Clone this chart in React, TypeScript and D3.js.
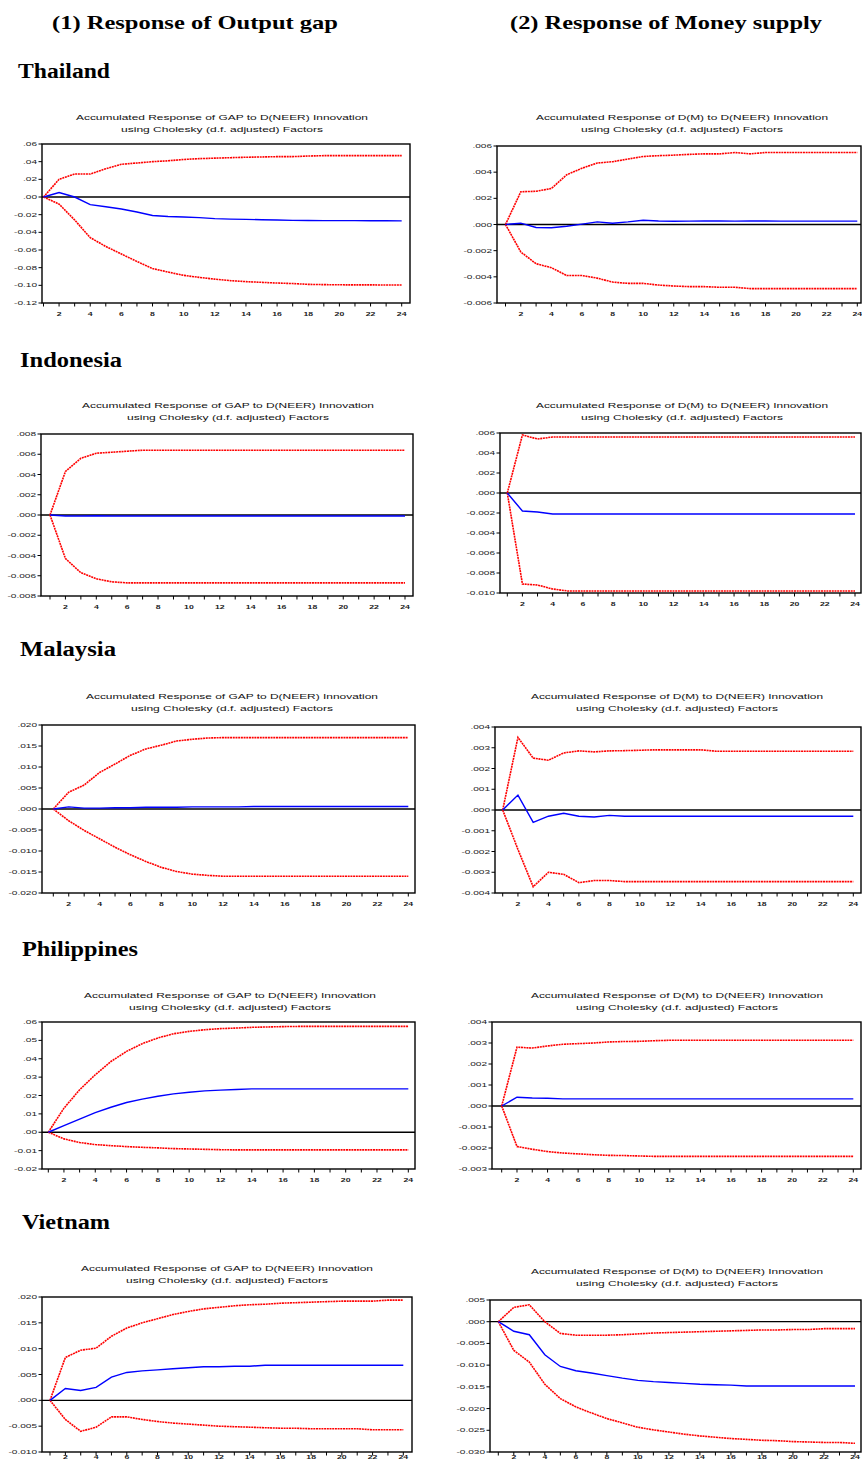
import React, { useEffect } from "react";
import * as d3 from "d3";

// ---------- data ----------
const periods = d3.range(1, 25);
const xTickLabels = [2, 4, 6, 8, 10, 12, 14, 16, 18, 20, 22, 24];
const countries = ["Thailand", "Indonesia", "Malaysia", "Philippines", "Vietnam"];
const columnHeads = ["(1) Response of Output gap", "(2) Response of Money supply"];
const chartTitles = [
  "Accumulated Response of GAP to D(NEER) Innovation",
  "Accumulated Response of D(M) to D(NEER) Innovation",
];
const subTitle = "using Cholesky (d.f. adjusted) Factors";

// Thailand
const thGapHi = [0, .020, .026, .026, .032, .037, .0385, .040, .041, .0425, .0434, .044, .0445, .045, .0453, .0457, .0457, .0464, .0468, .0468, .0468, .0468, .0468, .0468];
const thGapMid = [0, .005, 0, -.0087, -.011, -.0136, -.017, -.021, -.022, -.0226, -.0234, -.0245, -.025, -.0253, -.0257, -.026, -.0265, -.0266, -.0267, -.0268, -.0268, -.0269, -.0269, -.027];
const thGapLo = [0, -.008, -.026, -.046, -.056, -.0645, -.073, -.081, -.085, -.0887, -.091, -.093, -.0947, -.0958, -.0966, -.0974, -.098, -.0989, -.0992, -.0994, -.0995, -.0995, -.0996, -.0996];
const thMHi = [0, .0025, .00254, .00275, .0038, .0043, .0047, .0048, .005, .0052, .00526, .0053, .00536, .0054, .0054, .0055, .0054, .0055, .0055, .0055, .0055, .0055, .0055, .0055];
const thMMid = [0, .0001, -.00023, -.00025, -.00013, .00003, .0002, .0001, .0002, .00033, .00027, .00025, .00026, .00027, .00027, .00026, .00027, .00027, .00026, .00026, .00026, .00026, .00026, .00026];
const thMLo = [0, -.0021, -.003, -.0033, -.0039, -.0039, -.0041, -.0044, -.0045, -.0045, -.00463, -.0047, -.00475, -.00475, -.0048, -.0048, -.0049, -.0049, -.0049, -.0049, -.0049, -.0049, -.0049, -.0049];

// Indonesia
const idGapHi = [0, .0043, .0056, .0061, .0062, .0063, .0064, .0064, .0064, .0064, .0064, .0064, .0064, .0064, .0064, .0064, .0064, .0064, .0064, .0064, .0064, .0064, .0064, .0064];
const idGapMid = [0, -.0001, -.0001, -.00008, -.0001, -.0001, -.0001, -.0001, -.0001, -.0001, -.0001, -.0001, -.0001, -.0001, -.0001, -.0001, -.0001, -.0001, -.0001, -.0001, -.0001, -.0001, -.0001, -.0001];
const idGapLo = [0, -.0043, -.0057, -.0063, -.0066, -.0067, -.0067, -.0067, -.0067, -.0067, -.0067, -.0067, -.0067, -.0067, -.0067, -.0067, -.0067, -.0067, -.0067, -.0067, -.0067, -.0067, -.0067, -.0067];
const idMHi = [0, .0058, .0054, .0056, .0056, .0056, .0056, .0056, .0056, .0056, .0056, .0056, .0056, .0056, .0056, .0056, .0056, .0056, .0056, .0056, .0056, .0056, .0056, .0056];
const idMMid = [0, -.0018, -.0019, -.0021, -.0021, -.0021, -.0021, -.0021, -.0021, -.0021, -.0021, -.0021, -.0021, -.0021, -.0021, -.0021, -.0021, -.0021, -.0021, -.0021, -.0021, -.0021, -.0021, -.0021];
const idMLo = [0, -.0091, -.0092, -.0096, -.0098, -.0098, -.0098, -.0098, -.0098, -.0098, -.0098, -.0098, -.0098, -.0098, -.0098, -.0098, -.0098, -.0098, -.0098, -.0098, -.0098, -.0098, -.0098, -.0098];

// Malaysia
const myGapHi = [0, .004, .0057, .0087, .0107, .0128, .0143, .0152, .0162, .0166, .0169, .017, .017, .017, .017, .017, .017, .017, .017, .017, .017, .017, .017, .017];
const myGapMid = [0, .0005, .0002, .0002, .0003, .0003, .0004, .0004, .0004, .0005, .0005, .0005, .0005, .0006, .0006, .0006, .0006, .0006, .0006, .0006, .0006, .0006, .0006, .0006];
const myGapLo = [0, -.0028, -.0051, -.0071, -.0091, -.0109, -.0125, -.0139, -.0149, -.0155, -.0158, -.016, -.016, -.016, -.016, -.016, -.016, -.016, -.016, -.016, -.016, -.016, -.016, -.016];
const myMHi = [0, .0035, .0025, .0024, .00275, .00285, .0028, .00285, .00286, .00288, .0029, .0029, .0029, .0029, .00283, .00283, .00283, .00283, .00283, .00283, .00283, .00283, .00283, .00283];
const myMMid = [0, .00072, -.0006, -.0003, -.00016, -.0003, -.00034, -.00026, -.0003, -.0003, -.0003, -.0003, -.0003, -.0003, -.0003, -.0003, -.0003, -.0003, -.0003, -.0003, -.0003, -.0003, -.0003, -.0003];
const myMLo = [0, -.0019, -.0037, -.003, -.0031, -.0035, -.0034, -.0034, -.00345, -.00345, -.00345, -.00345, -.00345, -.00345, -.00345, -.00345, -.00345, -.00345, -.00345, -.00345, -.00345, -.00345, -.00345, -.00345];

// Philippines
const phGapHi = [0, .0131, .0231, .0313, .0385, .044, .0482, .0513, .0536, .0549, .0558, .0564, .0567, .0571, .0573, .0575, .0576, .0576, .0576, .0576, .0576, .0576, .0576, .0576];
const phGapMid = [0, .0036, .0071, .0107, .0136, .0162, .018, .0196, .0209, .0218, .0225, .0229, .0233, .0236, .0236, .0236, .0236, .0236, .0236, .0236, .0236, .0236, .0236, .0236];
const phGapLo = [0, -.0036, -.0056, -.0067, -.0073, -.0078, -.0082, -.0085, -.0089, -.0091, -.0093, -.0095, -.0096, -.0096, -.0096, -.0096, -.0096, -.0096, -.0096, -.0096, -.0096, -.0096, -.0096, -.0096];
const phMHi = [0, .0028, .00276, .00286, .00294, .00297, .003, .00305, .00307, .00308, .00311, .00313, .00313, .00313, .00313, .00313, .00313, .00313, .00313, .00313, .00313, .00313, .00313, .00313];
const phMMid = [0, .00042, .00038, .00037, .00034, .00034, .00034, .00034, .00034, .00034, .00034, .00034, .00034, .00034, .00034, .00034, .00034, .00034, .00034, .00034, .00034, .00034, .00034, .00034];
const phMLo = [0, -.00193, -.00206, -.00217, -.00224, -.00228, -.00232, -.00235, -.00236, -.00238, -.0024, -.0024, -.0024, -.0024, -.0024, -.0024, -.0024, -.0024, -.0024, -.0024, -.0024, -.0024, -.0024, -.0024];

// Vietnam
const vnGapHi = [0, .0083, .0097, .0101, .0124, .014, .015, .0158, .0166, .0172, .0177, .018, .0183, .0185, .0186, .0188, .0189, .019, .0191, .0192, .0192, .0192, .0194, .0194];
const vnGapMid = [0, .0023, .0019, .0025, .0045, .0054, .0057, .0059, .0061, .0063, .0065, .0065, .0066, .0066, .0068, .0068, .0068, .0068, .0068, .0068, .0068, .0068, .0068, .0068];
const vnGapLo = [0, -.0037, -.006, -.0052, -.0032, -.0032, -.0037, -.0041, -.0044, -.0046, -.0048, -.005, -.0051, -.0052, -.0053, -.0054, -.0054, -.0055, -.0055, -.0055, -.0055, -.0057, -.0057, -.0057];
const vnMHi = [0, .0033, .0039, 0, -.0027, -.0031, -.0031, -.0031, -.003, -.0028, -.0026, -.0025, -.0024, -.0023, -.0022, -.0021, -.002, -.0019, -.0019, -.0018, -.0018, -.0016, -.0016, -.0016];
const vnMMid = [0, -.0022, -.003, -.0076, -.0103, -.0113, -.0118, -.0124, -.013, -.0135, -.0138, -.014, -.0142, -.0144, -.0145, -.0146, -.0148, -.0148, -.0148, -.0148, -.0148, -.0148, -.0148, -.0148];
const vnMLo = [0, -.0066, -.0093, -.0144, -.0177, -.0196, -.021, -.0223, -.0233, -.0243, -.0249, -.0254, -.0259, -.0263, -.0266, -.0269, -.0271, -.0273, -.0274, -.0276, -.0277, -.0278, -.0278, -.028];

// y tick values per panel
const thGapTicks = [-.12, -.10, -.08, -.06, -.04, -.02, 0, .02, .04, .06];
const thMTicks = [-.006, -.004, -.002, 0, .002, .004, .006];
const idGapTicks = [-.008, -.006, -.004, -.002, 0, .002, .004, .006, .008];
const idMTicks = [-.010, -.008, -.006, -.004, -.002, 0, .002, .004, .006];
const myGapTicks = [-.020, -.015, -.010, -.005, 0, .005, .010, .015, .020];
const myMTicks = [-.004, -.003, -.002, -.001, 0, .001, .002, .003, .004];
const phGapTicks = [-.02, -.01, 0, .01, .02, .03, .04, .05, .06];
const phMTicks = [-.003, -.002, -.001, 0, .001, .002, .003, .004];
const vnGapTicks = [-.010, -.005, 0, .005, .010, .015, .020];
const vnMTicks = [-.030, -.025, -.020, -.015, -.010, -.005, 0, .005];

const panels = [
  { hi: thGapHi, mid: thGapMid, lo: thGapLo, ticks: thGapTicks, dec: 2 },
  { hi: thMHi, mid: thMMid, lo: thMLo, ticks: thMTicks, dec: 3 },
  { hi: idGapHi, mid: idGapMid, lo: idGapLo, ticks: idGapTicks, dec: 3 },
  { hi: idMHi, mid: idMMid, lo: idMLo, ticks: idMTicks, dec: 3 },
  { hi: myGapHi, mid: myGapMid, lo: myGapLo, ticks: myGapTicks, dec: 3 },
  { hi: myMHi, mid: myMMid, lo: myMLo, ticks: myMTicks, dec: 3 },
  { hi: phGapHi, mid: phGapMid, lo: phGapLo, ticks: phGapTicks, dec: 2 },
  { hi: phMHi, mid: phMMid, lo: phMLo, ticks: phMTicks, dec: 3 },
  { hi: vnGapHi, mid: vnGapMid, lo: vnGapLo, ticks: vnGapTicks, dec: 3 },
  { hi: vnMHi, mid: vnMMid, lo: vnMLo, ticks: vnMTicks, dec: 3 },
];

// ---------- layout (pixel boxes for each panel) ----------
const boxes = [
  { left: 42, top: 144, right: 410, bottom: 303, p1: 43.5, p24: 401.7, tx: 222, ty: 117 },
  { left: 497, top: 146, right: 861, bottom: 303, p1: 505.5, p24: 857.3, tx: 682, ty: 117 },
  { left: 41, top: 434, right: 413, bottom: 596, p1: 50, p24: 405, tx: 228, ty: 405 },
  { left: 500, top: 433, right: 861, bottom: 593, p1: 507.3, p24: 855, tx: 682, ty: 405 },
  { left: 42, top: 725, right: 415, bottom: 893, p1: 53.3, p24: 408.3, tx: 232, ty: 696 },
  { left: 495, top: 727, right: 861, bottom: 893, p1: 502.7, p24: 853.3, tx: 677, ty: 696 },
  { left: 42, top: 1022, right: 415, bottom: 1169, p1: 48.3, p24: 408.3, tx: 230, ty: 995 },
  { left: 492, top: 1022, right: 861, bottom: 1169, p1: 501.7, p24: 853.3, tx: 677, ty: 995 },
  { left: 42, top: 1297, right: 412, bottom: 1452, p1: 50, p24: 403.3, tx: 227, ty: 1268 },
  { left: 490, top: 1300, right: 861, bottom: 1452, p1: 498.3, p24: 855, tx: 677, ty: 1271 },
];
const countryPos = [
  { x: 18, y: 78, w: 92 },
  { x: 20, y: 367, w: 102 },
  { x: 20, y: 656, w: 96 },
  { x: 22, y: 956, w: 116 },
  { x: 22, y: 1229, w: 88 },
];

const sans = "'Liberation Sans', Arial, sans-serif";
const serif = "'Liberation Serif', 'Times New Roman', serif";
const pageHeight = 1460;

const fmtTick = (v: number, dec: number) =>
  d3.format(`.${dec}f`)(v).replace(/^(-?)0\./, "$1.").replace("−", "-");

function Panel({ idx }: { idx: number }) {
  const p = panels[idx];
  const b = boxes[idx];
  const col = idx % 2;
  const x = d3.scaleLinear().domain([1, 24]).range([b.p1, b.p24]);
  const y = d3
    .scaleLinear()
    .domain([p.ticks[0], p.ticks[p.ticks.length - 1]])
    .range([b.bottom, b.top]);
  const line = d3
    .line<number>()
    .x((_, i) => x(periods[i]))
    .y((d) => y(d));
  // keep the bottom row's period labels inside the page
  const labelY = Math.min(b.bottom + 12.5, pageHeight - 1.5);

  return (
    <g>
      {/* title */}
      <text x={b.tx} y={b.ty + 2.5} textAnchor="middle" fontFamily={sans} fontSize={7.5} fill="#111"
        textLength={292} lengthAdjust="spacingAndGlyphs">{chartTitles[col]}</text>
      <text x={b.tx} y={b.ty + 14.5} textAnchor="middle" fontFamily={sans} fontSize={7.5} fill="#111"
        textLength={202} lengthAdjust="spacingAndGlyphs">{subTitle}</text>

      {/* zero line */}
      <line x1={b.left} x2={b.right} y1={y(0)} y2={y(0)} stroke="#000" strokeWidth={1.3} />

      {/* series */}
      <path d={line(p.hi) || ""} fill="none" stroke="#ff0000" strokeWidth={1.6} strokeDasharray="2 0.7" />
      <path d={line(p.lo) || ""} fill="none" stroke="#ff0000" strokeWidth={1.6} strokeDasharray="2 0.7" />
      <path d={line(p.mid) || ""} fill="none" stroke="#0000ff" strokeWidth={1.4} />

      {/* frame */}
      <rect x={b.left} y={b.top} width={b.right - b.left} height={b.bottom - b.top}
        fill="none" stroke="#000" strokeWidth={1.4} />

      {/* y axis ticks */}
      {p.ticks.map((t) => (
        <g key={t}>
          <line x1={b.left - 3.5} x2={b.left} y1={y(t)} y2={y(t)} stroke="#000" strokeWidth={1} />
          <text transform={`translate(${b.left - 5},${y(t) + 2}) scale(1.8,1)`} textAnchor="end"
            fontFamily={sans} fontSize={5.6} fill="#222">{fmtTick(t, p.dec)}</text>
        </g>
      ))}

      {/* x axis ticks */}
      {periods.map((t) => (
        <line key={t} x1={x(t)} x2={x(t)} y1={b.bottom} y2={b.bottom + 3.5} stroke="#000" strokeWidth={1} />
      ))}
      {xTickLabels.map((t) => (
        <text key={t} transform={`translate(${x(t)},${labelY}) scale(1.5,1)`} textAnchor="middle"
          fontFamily={sans} fontSize={5.8} fontWeight="bold" fill="#222">{t}</text>
      ))}
    </g>
  );
}

export default function App() {
  useEffect(() => {
    document.body.style.margin = "0";
  }, []);

  return (
    <svg width={862} height={pageHeight} style={{ display: "block", background: "#fff" }}>
      <text x={52} y={29} fontFamily={serif} fontWeight="bold" fontSize={19} fill="#000"
        textLength={286} lengthAdjust="spacingAndGlyphs">{columnHeads[0]}</text>
      <text x={510} y={29} fontFamily={serif} fontWeight="bold" fontSize={19} fill="#000"
        textLength={312} lengthAdjust="spacingAndGlyphs">{columnHeads[1]}</text>

      {countries.map((c, i) => (
        <text key={c} x={countryPos[i].x} y={countryPos[i].y} fontFamily={serif} fontWeight="bold"
          fontSize={20} fill="#000" textLength={countryPos[i].w} lengthAdjust="spacingAndGlyphs">{c}</text>
      ))}

      {panels.map((_, i) => (
        <Panel key={i} idx={i} />
      ))}
    </svg>
  );
}
